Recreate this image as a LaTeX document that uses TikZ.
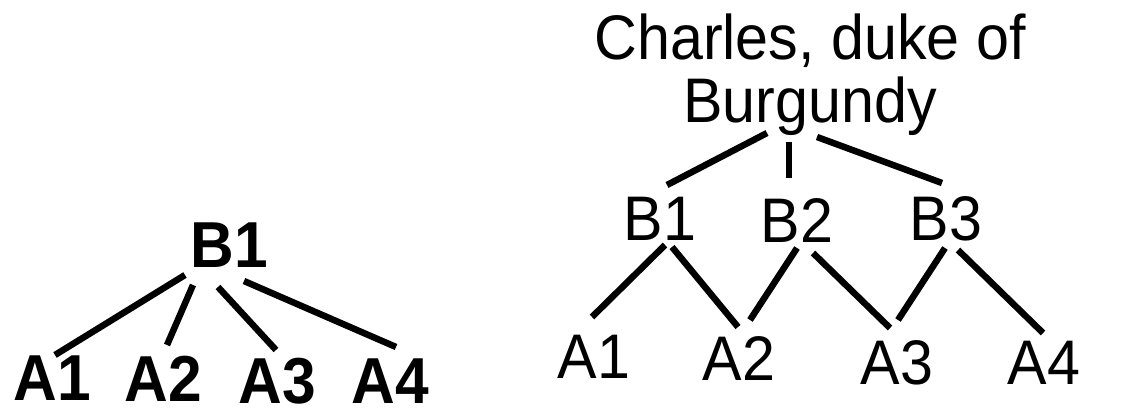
\documentclass[tikz,border=0pt]{standalone}
\usepackage{fontspec}
\setmainfont{Liberation Sans}
\newcommand{\sqz}[1]{\scalebox{0.94}[1]{#1}}
\newcommand{\sqzb}[1]{\scalebox{0.93}[1]{\bfseries #1}}
\begin{document}
\begin{tikzpicture}[x=1pt,y=-1pt,
  lbl/.style={inner sep=0pt,anchor=base,font=\fontsize{63}{63}\selectfont},
  blbl/.style={inner sep=0pt,anchor=base,font=\fontsize{65}{65}\selectfont},
  edge/.style={line width=6.5pt}]
\useasboundingbox (0,0) rectangle (1129,407);
% left tree
\node[blbl] (LB1) at (229,267) {\sqzb{B1}};
\node[blbl] (LA1) at (52,400) {\sqzb{A1}};
\node[blbl] (LA2) at (163,401) {\sqzb{A2}};
\node[blbl] (LA3) at (277,403) {\sqzb{A3}};
\node[blbl] (LA4) at (390,403) {\sqzb{A4}};
\draw[edge] ([shift={(-44,8)}]LB1.base) -- ([shift={(3,-45)}]LA1.base);
\draw[edge] ([shift={(-36,18)}]LB1.base) -- ([shift={(4,-56)}]LA2.base);
\draw[edge] ([shift={(-11,20)}]LB1.base) -- ([shift={(-1,-53)}]LA3.base);
\draw[edge] ([shift={(15,14)}]LB1.base) -- ([shift={(6,-56)}]LA4.base);
% right tree
\node[lbl,anchor=south,align=center] (C) at (810,136) {\sqz{Charles, duke of}\\\sqz{Burgundy}};
\node[lbl] (RB1) at (660,240) {\sqz{B1}};
\node[lbl] (RB2) at (797,242) {\sqz{B2}};
\node[lbl] (RB3) at (946,240) {\sqz{B3}};
\node[lbl] (RA1) at (594,378) {\sqz{A1}};
\node[lbl] (RA2) at (739,380) {\sqz{A2}};
\node[lbl] (RA3) at (897,384) {\sqz{A3}};
\node[lbl] (RA4) at (1044,384) {\sqz{A4}};
\draw[edge] ([shift={(-43,-3)}]C.south) -- ([shift={(7,-55)}]RB1.base);
\draw[edge] ([shift={(-21,6)}]C.south) -- ([shift={(-8,-64)}]RB2.base);
\draw[edge] ([shift={(7,1)}]C.south) -- ([shift={(-4,-57)}]RB3.base);
\draw[edge] ([shift={(5,5)}]RB1.base) -- ([shift={(-2,-61)}]RA1.base);
\draw[edge] ([shift={(12,7)}]RB1.base) -- ([shift={(-1,-53)}]RA2.base);
\draw[edge] ([shift={(0,6)}]RB2.base) -- ([shift={(11,-60)}]RA2.base);
\draw[edge] ([shift={(16,11)}]RB2.base) -- ([shift={(-7,-56)}]RA3.base);
\draw[edge] ([shift={(-1,8)}]RB3.base) -- ([shift={(1,-64)}]RA3.base);
\draw[edge] ([shift={(12,10)}]RB3.base) -- ([shift={(-1,-51)}]RA4.base);
\end{tikzpicture}
\end{document}
